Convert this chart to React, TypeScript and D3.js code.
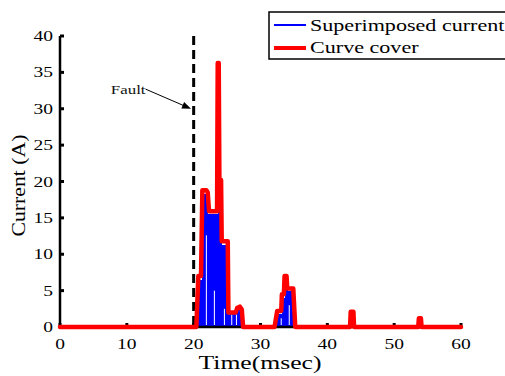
import React from 'react';
import * as d3 from 'd3';

// red envelope ("Curve cover"), [time ms, current A]
const coverTime = [0, 20.4, 20.7, 21.1, 21.3, 21.9, 22.1, 22.3, 23.5, 23.6, 23.75, 23.85, 24.1, 24.2, 25.1, 25.2, 26.3, 26.5, 26.9, 27.2, 27.4, 32.1, 32.5, 33.1, 33.2, 33.5, 33.6, 33.9, 34.0, 34.9, 35.2, 43.4, 43.5, 43.9, 44.0, 53.6, 53.7, 54.0, 54.1, 60];
const coverValue = [0, 0, 7.0, 7.0, 18.8, 18.8, 18.5, 15.9, 15.9, 36.3, 36.3, 20.2, 20.2, 11.8, 11.8, 2.0, 2.0, 2.6, 2.8, 2.4, 0, 0, 2.2, 2.2, 4.5, 4.5, 7.0, 7.0, 5.3, 5.3, 0, 0, 2.1, 2.1, 0, 0, 1.2, 1.2, 0, 0];

// blue superimposed current, drawn as filled blocks [start, end, height]
const blueStart = [20.6, 21.2, 22.1, 23.6, 23.85, 24.2, 25.2, 26.4, 32.5, 33.2, 33.6, 34.0];
const blueEnd = [21.2, 22.1, 23.6, 23.85, 24.2, 25.2, 26.4, 27.3, 33.2, 33.6, 34.0, 34.8];
const blueHeight = [6.5, 18.3, 15.5, 35.5, 19.5, 11.3, 1.8, 2.4, 1.8, 4.0, 6.5, 5.0];

// white gaps inside the blue signal [time, height]
const gapTime = [21.9, 23.1, 24.6, 25.7, 26.4, 33.1, 34.3];
const gapHeight = [12.6, 5.0, 2.5, 1.7, 1.7, 1.2, 3.0];

const xTicks = [0, 10, 20, 30, 40, 50, 60];
const yTicks = [0, 5, 10, 15, 20, 25, 30, 35, 40];

const faultTime = 20;
const arrowTail = [12.8, 32.7];
const arrowTip = [19.6, 30];

const legendLabels = ['Superimposed current', 'Curve cover'];

const FONT = '"Liberation Serif", "Times New Roman", serif';

export default function App() {
  const width = 505;
  const height = 376;
  const x = d3.scaleLinear().domain([0, 60]).range([60, 461]);
  const y = d3.scaleLinear().domain([0, 40]).range([327, 36]);

  const coverLine = d3.line<number>()
    .x((_, i) => x(coverTime[i]))
    .y((d) => y(d));

  const tx = x(arrowTip[0]);
  const ty = y(arrowTip[1]);
  const sx = x(arrowTail[0]);
  const sy = y(arrowTail[1]);
  const ang = Math.atan2(ty - sy, tx - sx);
  const hl = 9;
  const hw = 3.5;
  const head = [
    [tx, ty],
    [tx - hl * Math.cos(ang) + hw * Math.sin(ang), ty - hl * Math.sin(ang) - hw * Math.cos(ang)],
    [tx - hl * Math.cos(ang) - hw * Math.sin(ang), ty - hl * Math.sin(ang) + hw * Math.cos(ang)],
  ];

  return (
    <svg width={width} height={height} style={{ position: 'absolute', left: 0, top: 0 }} fontFamily={FONT}>
      <rect width={width} height={height} fill="white" />

      {/* blue signal */}
      {blueStart.map((s, i) => (
        <rect key={'b' + i} x={x(s)} y={y(blueHeight[i])} width={x(blueEnd[i]) - x(s) + 0.6} height={y(0) - y(blueHeight[i])} fill="#0000ff" shapeRendering="crispEdges" />
      ))}
      {gapTime.map((t, i) => (
        <line key={'g' + i} x1={x(t)} x2={x(t)} y1={y(0) - 2} y2={y(gapHeight[i])} stroke="white" strokeWidth={1} />
      ))}

      {/* fault line */}
      <line x1={x(faultTime)} x2={x(faultTime)} y1={y(40)} y2={y(0)} stroke="black" strokeWidth={3} strokeDasharray="9,5" />

      {/* axes */}
      <line x1={x(0)} x2={x(0)} y1={y(40)} y2={y(0)} stroke="black" strokeWidth={2.5} />
      <line x1={x(0)} x2={x(60)} y1={y(0)} y2={y(0)} stroke="black" strokeWidth={2.5} />
      {yTicks.map((t) => (
        <g key={'yt' + t}>
          <line x1={x(0)} x2={x(0) + 4} y1={y(t)} y2={y(t)} stroke="black" strokeWidth={3} />
          <text transform={`translate(${x(0) - 7},${y(t) + 5}) scale(1.3,1)`} textAnchor="end" fontSize={15} fill="#000">{t}</text>
        </g>
      ))}
      {xTicks.map((t) => (
        <g key={'xt' + t}>
          <line x1={x(t)} x2={x(t)} y1={y(0)} y2={y(0) - 4} stroke="black" strokeWidth={3} />
          <text transform={`translate(${x(t)},${y(0) + 22}) scale(1.3,1)`} textAnchor="middle" fontSize={15} fill="#000">{t}</text>
        </g>
      ))}

      {/* red envelope */}
      <path d={coverLine(coverValue) || ''} fill="none" stroke="#ff0000" strokeWidth={4.5} strokeLinejoin="round" strokeLinecap="round" />

      {/* fault annotation */}
      <line x1={sx} y1={sy} x2={tx - 4 * Math.cos(ang)} y2={ty - 4 * Math.sin(ang)} stroke="black" strokeWidth={1} />
      <polygon points={head.map((p) => p.join(',')).join(' ')} fill="black" />
      <text transform={`translate(${sx},${sy + 5}) scale(1.3,1)`} textAnchor="end" fontSize={13} fill="#111">Fault</text>

      {/* axis labels */}
      <text x={260} y={369} textAnchor="middle" fontSize={19.5} textLength={123} lengthAdjust="spacingAndGlyphs" fill="#000">Time(msec)</text>
      <text transform={`translate(25,${(y(0) + y(40)) / 2 + 4}) rotate(-90)`} textAnchor="middle" fontSize={19} textLength={102} lengthAdjust="spacingAndGlyphs" fill="#000">Current (A)</text>

      {/* legend */}
      <rect x={269} y={12} width={250} height={47} fill="white" stroke="black" strokeWidth={1.5} />
      <line x1={274} x2={306} y1={25} y2={25} stroke="#0000ff" strokeWidth={2} />
      <line x1={274} x2={306} y1={48} y2={48} stroke="#ff0000" strokeWidth={4} />
      <text transform="translate(310,31) scale(1.3,1)" fontSize={17} fill="#000">{legendLabels[0]}</text>
      <text transform="translate(310,53) scale(1.3,1)" fontSize={17} fill="#000">{legendLabels[1]}</text>
    </svg>
  );
}
